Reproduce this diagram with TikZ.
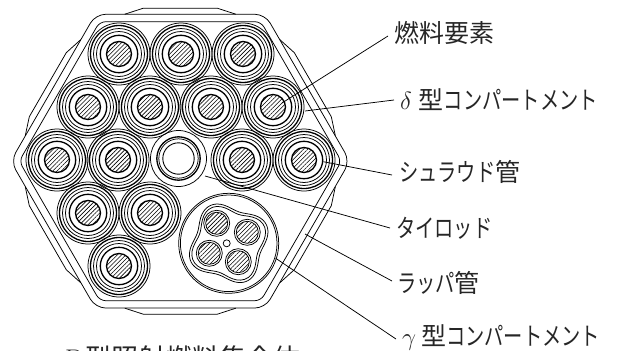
\documentclass[tikz,border=0pt]{standalone}
\usepackage{amsmath}
\usepackage{fontspec}
\usetikzlibrary{patterns.meta}
\newfontfamily\cjk{Noto Sans CJK JP}
\newcommand{\kana}[1]{\scalebox{0.77}[1]{#1}}
\tikzset{
  line/.style={line width=0.75pt},
  rodbox/.style={circle, draw, line width=1.3pt, inner sep=0, minimum size=25pt, pattern={Lines[angle=45,distance=3pt,line width=0.6pt]}},
  pinbox/.style={circle, draw, line width=0.75pt, inner sep=0, minimum size=22pt, pattern={Lines[angle=45,distance=3pt,line width=0.6pt]}},
  labelbox/.style={anchor=west, inner sep=0, font=\cjk\fontsize{25}{25}\selectfont, text=black!85}
}
\begin{document}
\begin{tikzpicture}[x=1pt, y=-1pt]
        \useasboundingbox (0,0) rectangle (622,351);
        \coordinate (C) at (180.3,161.2);

        \begin{scope}[line]
                \draw[rounded corners=10pt] (180,14.3) -- (265.1,14.3) -- (349.9,161.2) -- (265.1,308) -- (95.5,308) -- (10.7,161.2) -- (95.5,14.3) -- cycle;
                \draw[rounded corners=6pt] (180,21.7) -- (260.9,21.7) -- (341.4,161.2) -- (260.9,300.7) -- (99.7,300.7) -- (19.2,161.2) -- (99.7,21.7) -- cycle;
                \foreach \a in {0,60,...,300} {
                        \draw[shift={(C)}, rotate=\a] (-55.5,-147) -- (-37,-153) -- (37,-153) -- (55.5,-147);
                }
        \end{scope}

        \foreach \n/\x/\y in {A1/119/54, A2/181/54, A3/243/54, B1/88/107, B2/150/107, B3/211/107, B4/273/107, D1/57/160, D2/118/160, D3/242/160, D4/304/160, E1/88/213, E2/150/213, F1/119/266} {
                \node[rodbox] (\n) at (\x,\y) {};
                \draw[line] (\n) circle [radius=31pt];
                \draw[line width=1.3pt] (\n) circle [radius=28.5pt];
                \draw[line] (\n) circle [radius=25.5pt];
                \draw[line] (\n) circle [radius=22.5pt];
                \draw[line width=1.3pt] (\n) circle [radius=18.7pt];
        }

        \node[circle, draw, line, inner sep=0, minimum size=56pt] (blank) at (178.5,158.5) {};
        \draw[line width=1.3pt] (blank) circle [radius=21.7pt];
        \draw[line] (blank) circle [radius=19.7pt];
        \draw[line width=0.9pt] (blank) circle [radius=15.7pt];

        \node[circle, draw, line, inner sep=0, minimum size=100pt] (gamma) at (228.7,243.3) {};
        \draw[line] (gamma) circle [radius=48.3pt];
        \begin{scope}[line, shift={(gamma)}]
                \draw plot[smooth cycle, samples at={0,6,...,354}] ({(37.5+4.5*cos(4*\x+466))*cos(\x)}, {(37.5+4.5*cos(4*\x+466))*sin(\x)});
                \draw plot[smooth cycle, samples at={0,6,...,354}] ({(35+4.5*cos(4*\x+466))*cos(\x)}, {(35+4.5*cos(4*\x+466))*sin(\x)});
        \end{scope}
        \node[circle, draw, line, inner sep=0, minimum size=7pt] (tierod) at (226.7,243.3) {};
        \foreach \n/\x/\y in {P1/216.7/223.3, P2/247.3/232.3, P3/238.3/261.7, P4/209.3/253.3} {
                \node[pinbox] (\n) at (\x,\y) {};
                \draw[line] (\n) circle [radius=13pt];
        }

        \node[labelbox] (fuel) at (394,33) {燃料要素};
        \node[labelbox] (delta) at (400,100) {$\delta$\hspace{7pt}型\kana{コンパートメント}};
        \node[labelbox] (shroud) at (399,172) {\kana{シュラウド}管};
        \node[labelbox] (rod) at (396,228) {\kana{タイロッド}};
        \node[labelbox] (wrapper) at (397,283) {\kana{ラッパ}管};
        \node[labelbox] (gam) at (402,337) {$\gamma$\hspace{5pt}型\kana{コンパートメント}};
        \node[labelbox, font=\cjk\fontsize{27}{27}\selectfont] (title) at (65,358) {\rmfamily D\cjk 型照射燃料集合体};

        \coordinate (fueltip) at (282,103);
        \coordinate (deltatip) at (305,111);
        \coordinate (shroudtip) at (323.3,161.7);
        \coordinate (rodtip) at (205,176);
        \coordinate (wrappertip) at (305,234);
        \coordinate (gamtip) at (275.7,258.3);

        \draw[line] (fueltip) -- ([xshift=-6pt,yshift=-3pt]fuel.west);
        \draw[line] (deltatip) -- ([xshift=-6pt]delta.west);
        \draw[line] (shroudtip) -- ([xshift=-7pt,yshift=-3pt]shroud.west);
        \draw[line] (rodtip) -- ([xshift=-6pt]rod.west);
        \draw[line] (wrappertip) -- ([xshift=-5pt,yshift=2pt]wrapper.west);
        \draw[line] (gamtip) -- ([xshift=-6pt,yshift=-2pt]gam.west);
\end{tikzpicture}
\end{document}
